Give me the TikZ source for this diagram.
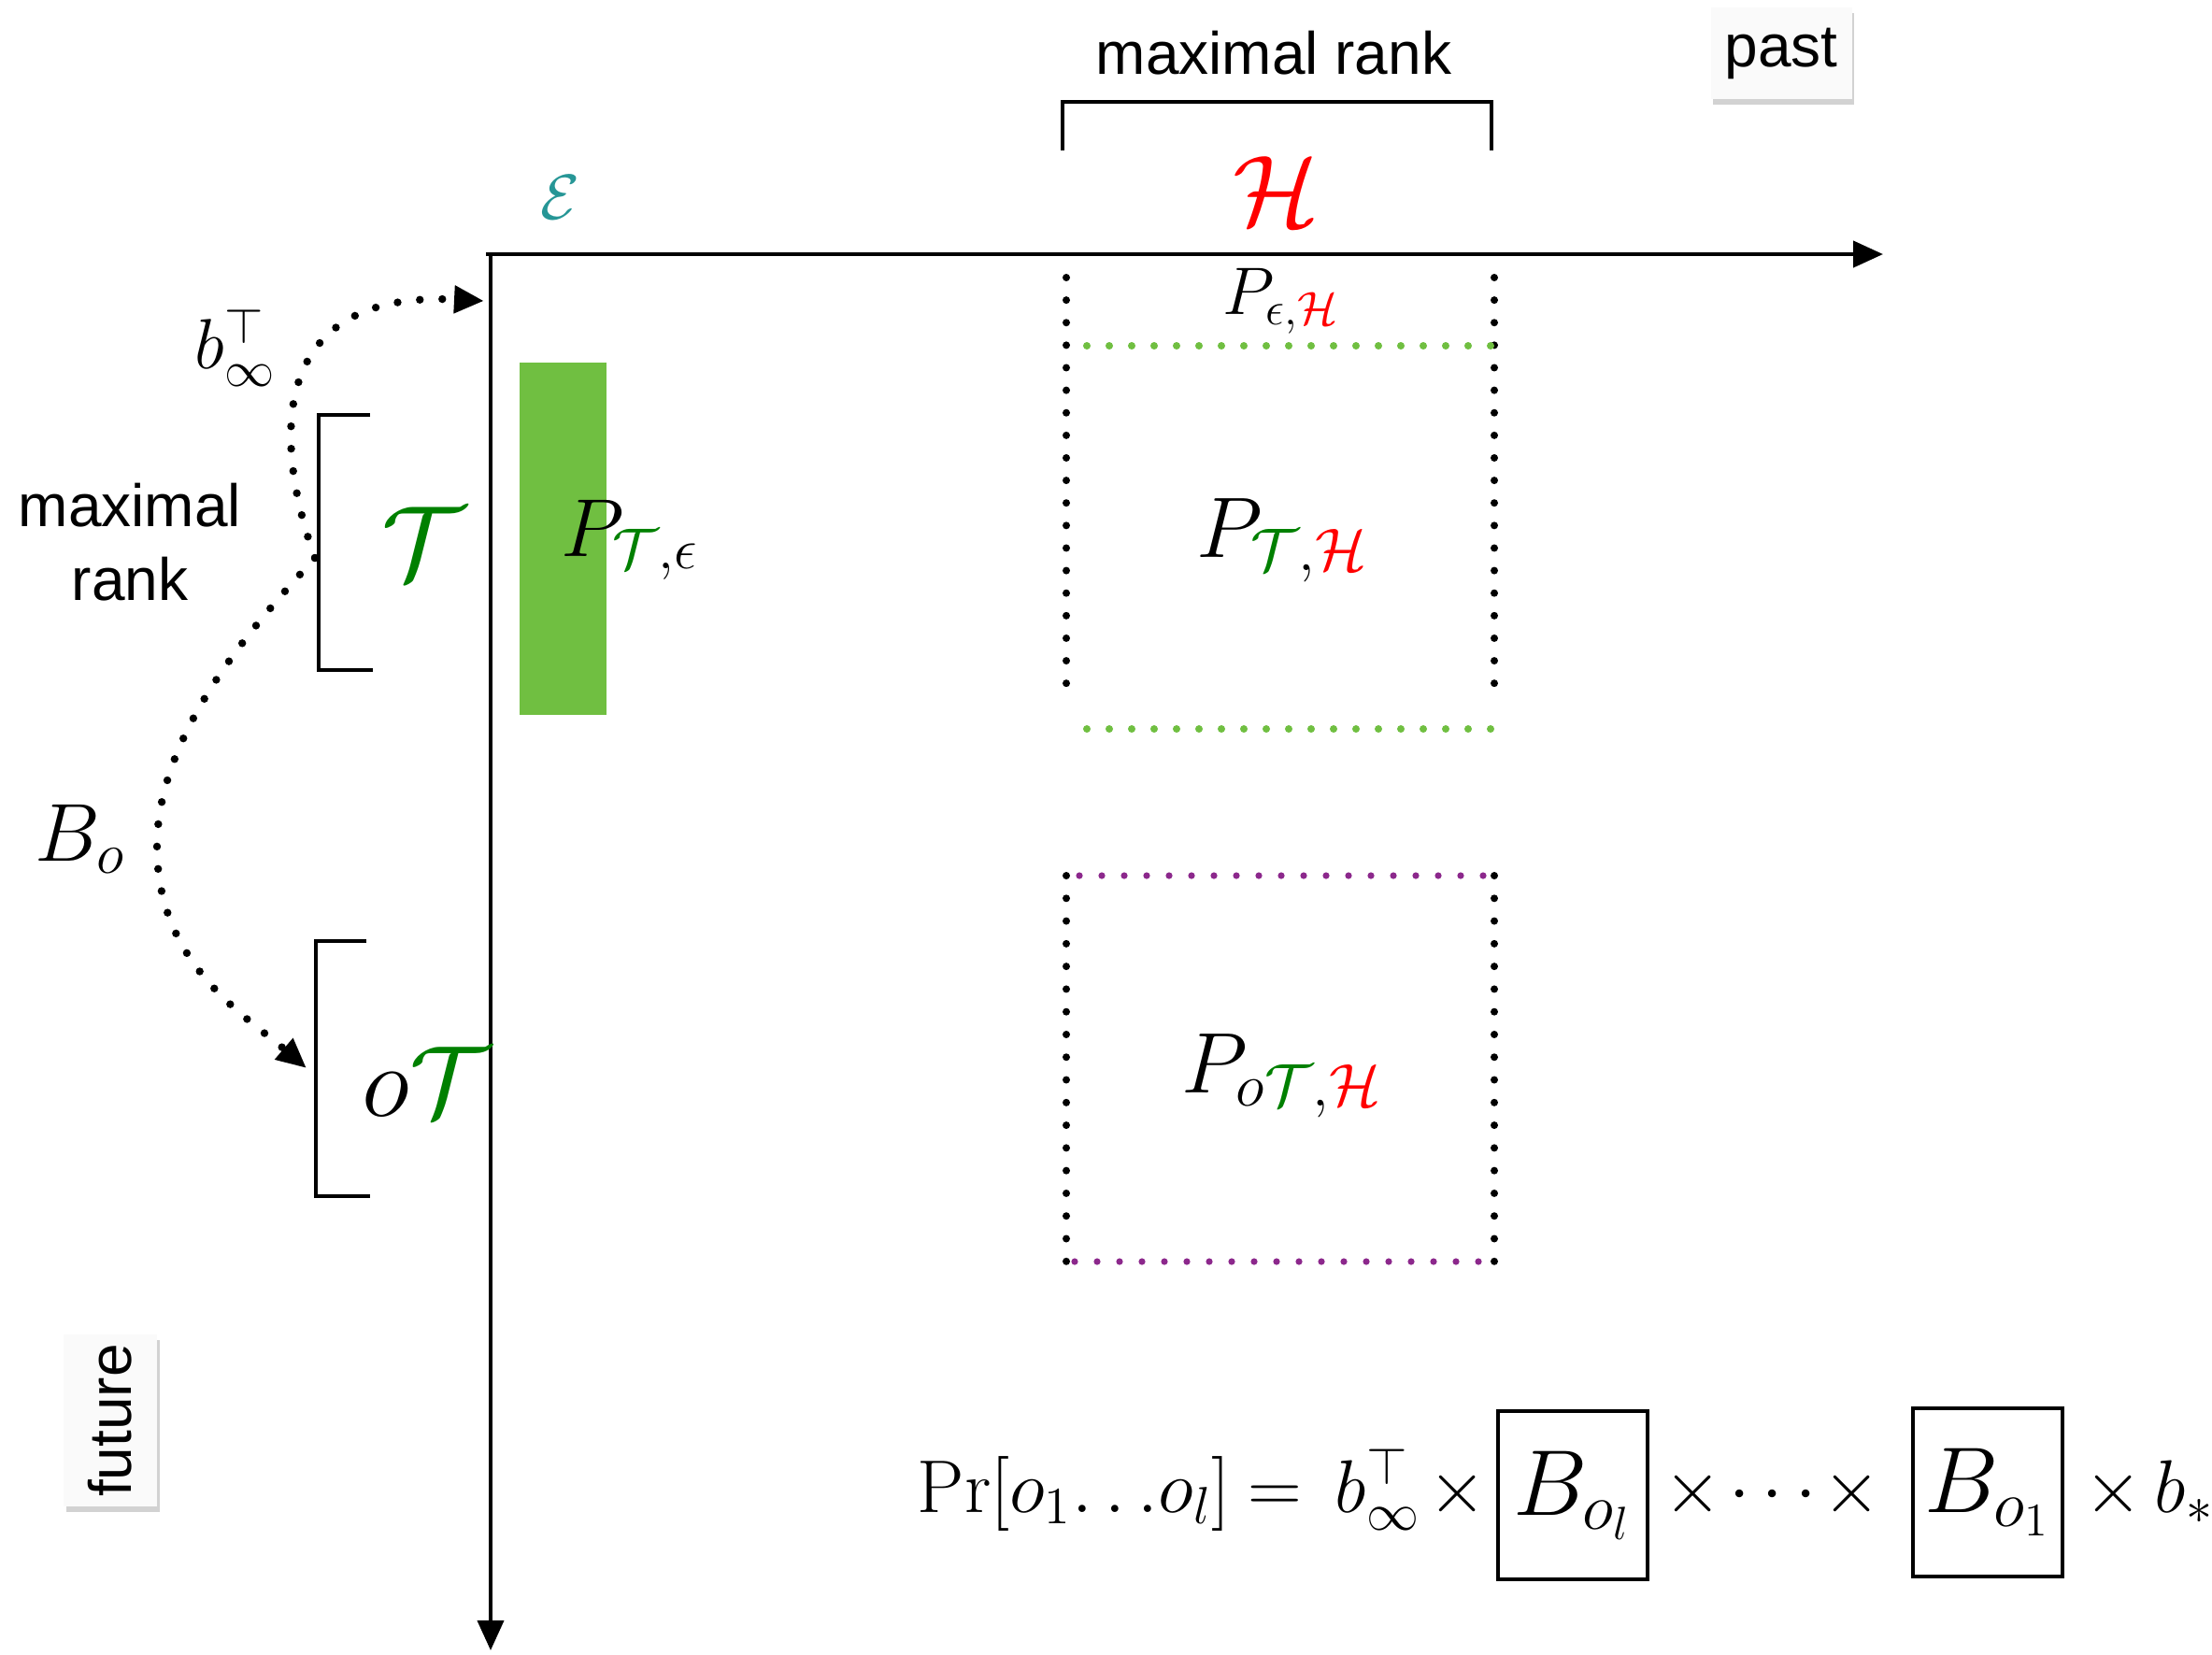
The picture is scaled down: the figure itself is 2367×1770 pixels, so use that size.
\RequirePackage{fix-cm}
\documentclass[tikz,border=0pt]{standalone}
\usepackage{fontspec}
\newfontfamily\txtfont{Liberation Sans}
\usetikzlibrary{arrows.meta,shadows}
\definecolor{dgreen}{RGB}{0,128,0}
\definecolor{lgreen}{RGB}{112,191,65}
\definecolor{tealc}{RGB}{38,150,150}
\definecolor{purp}{RGB}{140,40,140}
\definecolor{boxfill}{RGB}{250,250,250}
\tikzset{
  axish/.style={line width=1.1pt,-{Triangle[length=8pt,width=7pt]}},
  axisv/.style={line width=1pt,-{Triangle[length=8pt,width=7pt]}},
  brk/.style={line width=1.1pt},
  dotline/.style={line width=2pt,line cap=round,dash pattern=on 0pt off 6pt},
  dotcurve/.style={line width=2.1pt,line cap=round,dash pattern=on 0pt off 6pt,-{Triangle[length=8pt,width=7pt]}},
  lbl/.style={font=\txtfont\fontsize{16}{19.8}\selectfont,inner sep=0pt},
  shadowbox/.style={lbl,fill=boxfill,drop shadow={shadow xshift=0.7pt,shadow yshift=-1.4pt,fill=black!35}},
  eq/.style={font=\fontsize{20}{24}\selectfont,inner sep=0pt},
  mbox/.style={draw,line width=1.1pt,minimum width=40pt,minimum height=45pt,inner sep=0pt,font=\fontsize{25}{30}\selectfont},
}
\begin{document}
\begin{tikzpicture}[x=0.25pt,y=-0.25pt]
\useasboundingbox (0,0) rectangle (2367,1770);
% axes
\coordinate (hx0) at (520,272);
\coordinate (hx1) at (2015,272);
\coordinate (vy0) at (525,272);
\coordinate (vy1) at (525,1766);
\draw[axish] (hx0) -- (hx1);
\draw[axisv] (vy0) -- (vy1);
% top bracket
\coordinate (tb1) at (1137,161);
\coordinate (tb2) at (1137,109);
\coordinate (tb3) at (1596,109);
\coordinate (tb4) at (1596,161);
\draw[brk] (tb1) -- (tb2) -- (tb3) -- (tb4);
\node[lbl] (mrtop) at (1363,57) {maximal rank};
% past / future
\node[shadowbox,minimum width=37.75pt,minimum height=24.5pt] (past) at (1906,57) {past};
\node[shadowbox,rotate=90,minimum width=46pt,minimum height=25pt] (future) at (118,1520) {future};
% left brackets
\coordinate (lb1) at (396,444);
\coordinate (lb2) at (341,444);
\coordinate (lb3) at (341,717);
\coordinate (lb4) at (399,717);
\draw[brk] (lb1) -- (lb2) -- (lb3) -- (lb4);
\coordinate (ob1) at (392,1007);
\coordinate (ob2) at (338,1007);
\coordinate (ob3) at (338,1280);
\coordinate (ob4) at (396,1280);
\draw[brk] (ob1) -- (ob2) -- (ob3) -- (ob4);
\node[lbl,align=center] (mrleft) at (139,580) {maximal\\rank};
% green column
\fill[lgreen] (556,388) rectangle (649,765);
% dotted box 1
\coordinate (a1) at (1141,297);
\coordinate (a2) at (1141,755);
\coordinate (a3) at (1599,297);
\coordinate (a4) at (1599,755);
\draw[dotline,dash pattern=on 0pt off 6.03pt] (a1) -- (a2);
\draw[dotline,dash pattern=on 0pt off 6.03pt] (a3) -- (a4);
\coordinate (g1) at (1163,370);
\coordinate (g2) at (1595,370);
\coordinate (g3) at (1163,780);
\coordinate (g4) at (1595,780);
\draw[dotline,lgreen] (g1) -- (g2);
\draw[dotline,lgreen] (g3) -- (g4);
% dotted box 2
\coordinate (c1) at (1141,937);
\coordinate (c2) at (1141,1350);
\coordinate (c3) at (1599,937);
\coordinate (c4) at (1599,1350);
\draw[dotline,dash pattern=on 0pt off 6.07pt] (c1) -- (c2);
\draw[dotline,dash pattern=on 0pt off 6.07pt] (c3) -- (c4);
\coordinate (p1) at (1155,937);
\coordinate (p2) at (1592,937);
\coordinate (p3) at (1150,1350);
\coordinate (p4) at (1592,1350);
\draw[dotline,purp,line width=1.8pt] (p1) -- (p2);
\draw[dotline,purp,line width=1.8pt] (p3) -- (p4);
% math labels
\node[text=tealc,font=\fontsize{17}{20}\selectfont] (eps) at (599,211) {$\mathcal{E}$};
\node[text=red,font=\fontsize{27}{31}\selectfont] (H) at (1366,205) {$\mathcal{H}$};
\node[font=\fontsize{18}{21}\selectfont] (peh) at (1371,322) {$P_{\epsilon,\textcolor{red}{\mathcal{H}}}$};
\node[font=\fontsize{23}{27}\selectfont] (pth) at (1372,578) {$P_{\textcolor{dgreen}{\mathcal{T}},\textcolor{red}{\mathcal{H}}}$};
\node[font=\fontsize{23}{27}\selectfont] (poth) at (1372,1151) {$P_{o\textcolor{dgreen}{\mathcal{T}},\textcolor{red}{\mathcal{H}}}$};
\node[font=\fontsize{22}{26}\selectfont] (pte) at (674,578) {$P_{\textcolor{dgreen}{\mathcal{T}},\epsilon}$};
\node[text=dgreen,font=\fontsize{28}{32}\selectfont] (T) at (453,581) {$\mathcal{T}$};
\node[font=\fontsize{27}{31}\selectfont] (oT) at (456,1158) {$o\textcolor{dgreen}{\mathcal{T}}$};
\node[font=\fontsize{22}{26}\selectfont] (Bo) at (86,898) {$B_o$};
\node[font=\fontsize{19}{23}\selectfont] (binfl) at (252,372) {$b_\infty^\top$};
% dotted curved arrows
\coordinate (s) at (337,597);
\coordinate (t1) at (518,322);
\coordinate (m) at (168,906);
\coordinate (t2) at (328,1143);
\draw[dotcurve] (s) .. controls (295,480) and (280,310) .. (t1);
\draw[dotcurve] (s) .. controls (280,660) and (168,780) .. (m) .. controls (168,1030) and (260,1085) .. (t2);
% equation
\node[eq,anchor=base west] (pr) at (981,1618) {$\Pr[o_1\!\ldots\! o_l]$};
\node[eq,anchor=base] (eqs) at (1364,1618) {$=$};
\node[eq,anchor=base west] (binf) at (1428,1618) {$b_\infty^\top$};
\node[eq,anchor=base] (x1) at (1560,1618) {$\times$};
\node[mbox] (B1) at (1683,1600) {$B_{o_l}$};
\node[eq,anchor=base] (x2) at (1812,1618) {$\times$};
\node[eq,anchor=base] (dts) at (1897,1618) {$\cdots$};
\node[eq,anchor=base] (x3) at (1982,1618) {$\times$};
\node[mbox] (B2) at (2127,1597) {$B_{o_1}$};
\node[eq,anchor=base] (x4) at (2262,1618) {$\times$};
\node[eq,anchor=base west] (bstar) at (2305,1618) {$b_*$};
\end{tikzpicture}
\end{document}
